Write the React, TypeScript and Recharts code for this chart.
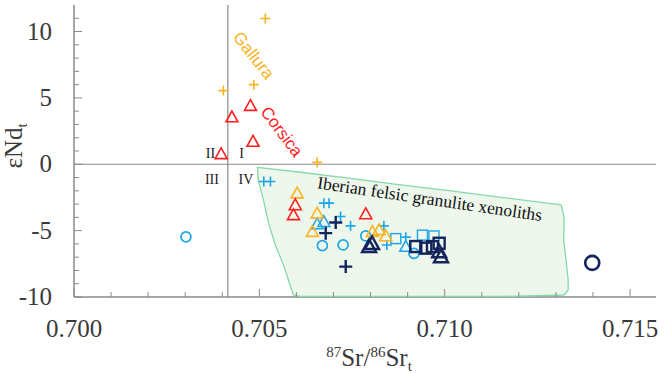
import React from "react";
import {
  ScatterChart,
  Scatter,
  XAxis,
  YAxis,
  ReferenceLine,
  ReferenceDot,
} from "recharts";

type Pt = [number, number];

// 87Sr/86Sr vs eNd values
const galluraPlus: Pt[] = [[0.70516, 10.98], [0.70403, 5.55], [0.70485, 6.0], [0.70656, 0.14]];
const redTri: Pt[] = [
  [0.70476, 4.42], [0.70426, 3.56], [0.70483, 1.72], [0.70397, 0.79],
  [0.70597, -3.06], [0.70592, -3.81], [0.70787, -3.74],
];
const orangeTri: Pt[] = [
  [0.70602, -2.17], [0.70656, -3.68], [0.70643, -5.07],
  [0.70805, -5.07], [0.70823, -4.94], [0.70841, -5.4],
];
const cyanPlus: Pt[] = [
  [0.70512, -1.3], [0.7053, -1.3], [0.70674, -2.93], [0.70688, -2.93], [0.70719, -3.94],
  [0.70746, -4.64], [0.70836, -4.64], [0.70844, -6.08], [0.70895, -5.49],
];
const cyanTri: Pt[] = [[0.70656, -4.5], [0.70674, -4.32], [0.70895, -6.2]];
const cyanCircle: Pt[] = [[0.70302, -5.47], [0.7067, -6.13], [0.70726, -6.08], [0.70787, -5.4], [0.70917, -6.71]];
const cyanSquare: Pt[] = [[0.70868, -5.6], [0.7094, -5.34], [0.70971, -5.4]];
const navyPlus: Pt[] = [[0.70679, -5.19], [0.70706, -4.39], [0.70733, -7.71]];
const navyTri: Pt[] = [[0.70796, -6.19], [0.70804, -5.96], [0.70985, -6.58], [0.7099, -6.96]];
const navySquare: Pt[] = [[0.70922, -6.2], [0.70949, -6.32], [0.70967, -6.2], [0.70985, -5.95]];
const navyCircle: Pt[] = [[0.71398, -7.43]];

// outline of the Iberian felsic granulite field
const iberianField: Pt[] = [
  [0.70495, -0.23], [0.70611, -0.6], [0.70746, -1.06], [0.70881, -1.55], [0.71017, -2.0],
  [0.71152, -2.49], [0.7126, -2.87], [0.71314, -3.06], [0.71322, -3.96], [0.71321, -5.7],
  [0.71328, -7.43], [0.71333, -8.72], [0.71333, -9.47], [0.71322, -9.85], [0.71152, -9.96],
  [0.70881, -9.96], [0.70611, -9.96], [0.70592, -9.85], [0.70581, -8.94], [0.70565, -7.58],
  [0.70543, -6.08], [0.70524, -4.34], [0.70511, -2.68], [0.70497, -1.17],
];

const xTicks = [
  0.7, 0.701, 0.702, 0.703, 0.704, 0.705, 0.706, 0.707,
  0.708, 0.709, 0.71, 0.711, 0.712, 0.713, 0.714, 0.715,
];
const yTicks = [-10, -9, -8, -7, -6, -5, -4, -3, -2, -1, 0, 1, 2, 3, 4, 5, 6, 7, 8, 9, 10, 11];

const quadrantSr = 0.70415;
const quadrantNd = 0;

const SERIF = "'Liberation Serif', 'Times New Roman', serif";
const SANS = "'Liberation Sans', Arial, sans-serif";

// in-plot annotations: [x, y, text, angle, color, size, font]
const notes: [number, number, string, number, string, number, string][] = [
  [0.70484, 8.19, "Gallura", 52, "#FBB321", 17, SANS],
  [0.7056, 2.45, "Corsica", 53, "#FF1E1E", 17, SANS],
  [0.70368, 0.79, "II", 0, "#222", 14, SERIF],
  [0.70452, 0.79, "I", 0, "#222", 14, SERIF],
  [0.70372, -1.12, "III", 0, "#222", 14, SERIF],
  [0.70464, -1.12, "IV", 0, "#222", 14, SERIF],
  [0.7096, -2.6, "Iberian felsic granulite xenoliths", 8.3, "#111", 17.5, SERIF],
];

const ORANGE = "#FBB321";
const RED = "#FF1E1E";
const CYAN = "#1CA6E8";
const NAVY = "#14245C";
const AXIS = "#8a8a8a";

const toObj = (pts: Pt[]) => pts.map(([x, y]) => ({ x, y }));

const plus = (color: string, s: number, sw: number) => (p: any) => (
  <path
    d={`M${p.cx - s},${p.cy}h${2 * s}M${p.cx},${p.cy - s}v${2 * s}`}
    stroke={color}
    strokeWidth={sw}
    fill="none"
  />
);
const tri = (color: string, s: number, sw: number) => (p: any) => (
  <path
    d={`M${p.cx},${p.cy - s}L${p.cx + s},${p.cy + s * 0.8}L${p.cx - s},${p.cy + s * 0.8}Z`}
    stroke={color}
    strokeWidth={sw}
    fill="none"
  />
);
const circ = (color: string, r: number, sw: number) => (p: any) => (
  <circle cx={p.cx} cy={p.cy} r={r} stroke={color} strokeWidth={sw} fill="none" />
);
const sq = (color: string, s: number, sw: number) => (p: any) => (
  <rect x={p.cx - s} y={p.cy - s} width={2 * s} height={2 * s} stroke={color} strokeWidth={sw} fill="none" />
);

const isMajorX = (v: number) => Math.round(v * 1000) % 5 === 0;
const isMajorY = (v: number) => v % 5 === 0;

const labelStyle = { fontFamily: SERIF, fontSize: 25 };

const BottomTick = (p: any) => {
  const v = p.payload.value;
  const major = isMajorX(v);
  return (
    <g>
      <line x1={p.x} y1={p.y} x2={p.x} y2={p.y - (major ? 8 : 5)} stroke={AXIS} />
      {major && (
        <text x={p.x} y={p.y + 40} textAnchor="middle" style={labelStyle} fill="#3a3a3a">
          {v.toFixed(3)}
        </text>
      )}
    </g>
  );
};
const TopTick = (p: any) => (
  <line x1={p.x} y1={p.y} x2={p.x} y2={p.y + (isMajorX(p.payload.value) ? 8 : 5)} stroke={AXIS} />
);
const LeftTick = (p: any) => {
  const v = p.payload.value;
  const major = isMajorY(v);
  return (
    <g>
      <line x1={p.x} y1={p.y} x2={p.x + (major ? 8 : 5)} y2={p.y} stroke={AXIS} />
      {major && (
        <text x={p.x - 22} y={p.y + 8} textAnchor="end" style={labelStyle} fill="#3a3a3a">
          {v}
        </text>
      )}
    </g>
  );
};
const RightTick = (p: any) => (
  <line x1={p.x} y1={p.y} x2={p.x - (isMajorY(p.payload.value) ? 8 : 5)} y2={p.y} stroke={AXIS} />
);

const fieldOutline = (p: any) => {
  const pts = p.points || [];
  if (!pts.length) return <g />;
  const d = pts.map((q: any, i: number) => `${i ? "L" : "M"}${q.x},${q.y}`).join("") + "Z";
  return <path d={d} fill="#EEF7EC" stroke="#86D9A8" strokeWidth={1.3} />;
};

export default function App() {
  return (
    <div style={{ position: "absolute", left: 0, top: 0, width: 667, height: 373 }}>
      <ScatterChart width={667} height={373} margin={{ top: 5, right: 11, bottom: 0, left: 0 }}>
        <XAxis
          type="number"
          dataKey="x"
          domain={[0.7, 0.7157]}
          allowDataOverflow
          ticks={xTicks}
          interval={0}
          height={76}
          tickSize={0}
          tickMargin={0}
          stroke={AXIS}
          strokeWidth={1.5}
          tick={BottomTick}
        />
        <XAxis
          xAxisId="top"
          orientation="top"
          type="number"
          dataKey="x"
          domain={[0.7, 0.7157]}
          allowDataOverflow
          ticks={xTicks}
          interval={0}
          height={0}
          tickSize={0}
          tickMargin={0}
          stroke={AXIS}
          strokeWidth={1.5}
          tick={TopTick}
        />
        <YAxis
          type="number"
          dataKey="y"
          domain={[-10, 12]}
          allowDataOverflow
          ticks={yTicks}
          interval={0}
          width={74}
          tickSize={0}
          tickMargin={0}
          stroke={AXIS}
          strokeWidth={1.5}
          tick={LeftTick}
        />
        <YAxis
          yAxisId="right"
          orientation="right"
          type="number"
          dataKey="y"
          domain={[-10, 12]}
          allowDataOverflow
          ticks={yTicks}
          interval={0}
          width={0}
          tickSize={0}
          tickMargin={0}
          stroke={AXIS}
          strokeWidth={1.5}
          tick={RightTick}
        />
        <Scatter
          data={toObj([...iberianField, iberianField[0]])}
          line={fieldOutline}
          lineJointType="linear"
          shape={() => <g />}
          isAnimationActive={false}
        />
        <ReferenceLine y={quadrantNd} stroke={AXIS} strokeWidth={1.2} />
        <ReferenceLine x={quadrantSr} stroke={AXIS} strokeWidth={1.2} />
        <Scatter data={toObj(cyanSquare)} shape={sq(CYAN, 5, 1.4)} isAnimationActive={false} />
        <Scatter data={toObj(cyanCircle)} shape={circ(CYAN, 5, 1.7)} isAnimationActive={false} />
        <Scatter data={toObj(cyanTri)} shape={tri(CYAN, 6, 1.5)} isAnimationActive={false} />
        <Scatter data={toObj(cyanPlus)} shape={plus(CYAN, 5, 1.6)} isAnimationActive={false} />
        <Scatter data={toObj(orangeTri)} shape={tri(ORANGE, 6, 1.6)} isAnimationActive={false} />
        <Scatter data={toObj(redTri)} shape={tri(RED, 6, 1.6)} isAnimationActive={false} />
        <Scatter data={toObj(galluraPlus)} shape={plus(ORANGE, 5, 1.6)} isAnimationActive={false} />
        <Scatter data={toObj(navySquare)} shape={sq(NAVY, 5.5, 2.4)} isAnimationActive={false} />
        <Scatter data={toObj(navyTri)} shape={tri(NAVY, 7, 2.4)} isAnimationActive={false} />
        <Scatter data={toObj(navyPlus)} shape={plus(NAVY, 6.5, 2.4)} isAnimationActive={false} />
        <Scatter data={toObj(navyCircle)} shape={circ(NAVY, 7, 2.6)} isAnimationActive={false} />
        {notes.map(([x, y, text, angle, color, size, font]) => (
          <ReferenceDot
            key={text}
            x={x}
            y={y}
            r={1}
            shape={(p: any) => (
              <text
                x={p.cx}
                y={p.cy}
                transform={`rotate(${angle} ${p.cx} ${p.cy})`}
                textAnchor="middle"
                dominantBaseline="central"
                style={{ fontFamily: font, fontSize: size }}
                fill={color}
              >
                {text}
              </text>
            )}
          />
        ))}
      </ScatterChart>
      <svg
        width={667}
        height={373}
        style={{ position: "absolute", left: 0, top: 0, pointerEvents: "none" }}
      >
        <text x={369} y={366} textAnchor="middle" style={labelStyle} fill="#3a3a3a">
          <tspan fontSize={15} dy={-9}>87</tspan>
          <tspan dy={9}>Sr/</tspan>
          <tspan fontSize={15} dy={-9}>86</tspan>
          <tspan dy={9}>Sr</tspan>
          <tspan fontSize={15} dy={5}>t</tspan>
        </text>
        <text transform="rotate(-90)" x={-146} y={22} textAnchor="middle" style={labelStyle} fill="#3a3a3a">
          εNd
          <tspan fontSize={15} dy={5}>t</tspan>
        </text>
      </svg>
    </div>
  );
}
